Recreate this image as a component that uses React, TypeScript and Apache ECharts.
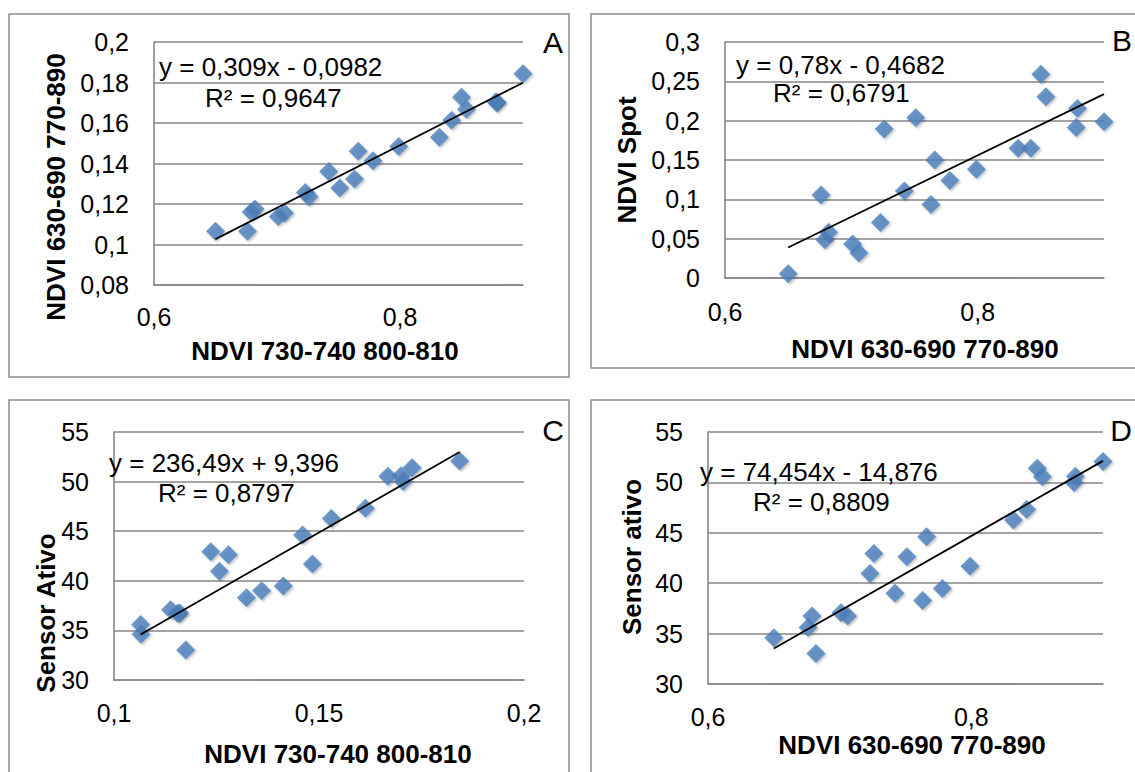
import React, { useEffect, useRef } from 'react';
import * as echarts from 'echarts';

// Shared samples (21 plots)
const ndviU = [0.650, 0.676, 0.679, 0.682, 0.701, 0.706, 0.723, 0.726, 0.742, 0.751, 0.763, 0.766, 0.778, 0.799, 0.832, 0.842, 0.850, 0.854, 0.879, 0.878, 0.900];
const ndviV = [0.1066, 0.1065, 0.1160, 0.1175, 0.1138, 0.1155, 0.1257, 0.1236, 0.1360, 0.1279, 0.1323, 0.1460, 0.1413, 0.1484, 0.1530, 0.1613, 0.1727, 0.1668, 0.1700, 0.1705, 0.1843];
const ndviSpot = [0.0055, 0.1056, 0.0486, 0.0583, 0.0431, 0.0317, 0.0706, 0.1893, 0.1107, 0.2037, 0.0934, 0.1500, 0.1238, 0.1382, 0.1648, 0.1648, 0.2590, 0.2303, 0.2155, 0.1914, 0.1986];
const sensorAtivo = [34.6, 35.6, 36.75, 33.03, 37.07, 36.74, 40.97, 42.94, 39.0, 42.62, 38.28, 44.61, 39.48, 41.69, 46.28, 47.31, 51.4, 50.55, 50.6, 50.0, 52.07];

// Panel definitions: A, B, C, D
const panelLetters = ['A', 'B', 'C', 'D'];
const xTitles = ['NDVI 730-740 800-810', 'NDVI 630-690 770-890', 'NDVI 730-740 800-810', 'NDVI 630-690 770-890'];
const yTitles = ['NDVI 630-690 770-890', 'NDVI Spot', 'Sensor Ativo', 'Sensor ativo'];
const equations = ['y = 0,309x - 0,0982', 'y = 0,78x - 0,4682', 'y = 236,49x + 9,396', 'y = 74,454x - 14,876'];
const r2Labels = ['R² = 0,9647', 'R² = 0,6791', 'R² = 0,8797', 'R² = 0,8809'];
const slopes = [0.309, 0.78, 236.49, 74.454];
const intercepts = [-0.0982, -0.4682, 9.396, -14.876];
const xMins = [0.6, 0.6, 0.1, 0.6];
const xMaxs = [0.9, 0.9, 0.2, 0.9];
const xSteps = [0.2, 0.2, 0.05, 0.2];
const yMins = [0.08, 0, 30, 30];
const yMaxs = [0.2, 0.3, 55, 55];
const ySteps = [0.02, 0.05, 5, 5];
const xData = [ndviU, ndviU, ndviV, ndviU];
const yData = [ndviV, ndviSpot, sensorAtivo, sensorAtivo];

const FONT = '"Liberation Sans", Arial, sans-serif';
const GRAY = '#868686';
const BLUE = '#4A7EBB';

// layout (pixels)
const grids = [
  { left: 154, top: 42, width: 369, height: 243 },
  { left: 725, top: 42, width: 379, height: 236 },
  { left: 114, top: 432, width: 410, height: 248 },
  { left: 708, top: 432, width: 395, height: 252 },
];
const boxes = [
  { x: 9, y: 14, width: 560, height: 363 },
  { x: 591, y: 14, width: 560, height: 354 },
  { x: 9, y: 400, width: 560, height: 400 },
  { x: 591, y: 400, width: 560, height: 400 },
];
const letterPos = [[553, 42], [1122, 40], [553, 430], [1121, 430]];
const xTitlePos = [[325, 351], [925, 349], [338, 754], [912, 745]];
const yTitlePos = [[56, 187], [627, 160], [46, 613], [632, 557]];
const eqPos = [[159, 67], [736, 65], [109, 463], [700, 472]];
const r2Pos = [[205, 98], [773, 93], [158, 493], [753, 502]];
const xLabelMargins = [19, 21, 20, 20];

const fmt = (step: number) => (v: number) => {
  const k = v / step;
  if (Math.abs(k - Math.round(k)) > 1e-6) return '';
  return String(+v.toFixed(3)).replace('.', ',');
};

function txt(text: string, x: number, y: number, size: number, bold: boolean, align: string, rot = 0) {
  return {
    type: 'text',
    x,
    y,
    rotation: rot,
    silent: true,
    z: 100,
    style: {
      text,
      x: 0,
      y: 0,
      fill: '#000',
      font: `${bold ? 'bold ' : ''}${size}px ${FONT}`,
      align,
      verticalAlign: 'middle',
    },
  };
}

export default function App() {
  const ref = useRef<HTMLDivElement>(null);
  useEffect(() => {
    if (!ref.current) return;
    const chart = echarts.init(ref.current, undefined, { renderer: 'svg' });

    const graphic: any[] = [];
    boxes.forEach((b) => {
      graphic.push({
        type: 'rect',
        shape: { x: b.x, y: b.y, width: b.width, height: b.height },
        style: { fill: 'none', stroke: '#8c8c8c', lineWidth: 1.5 },
        silent: true,
        z: 0,
      });
    });
    for (let i = 0; i < 4; i++) {
      graphic.push(txt(panelLetters[i], letterPos[i][0], letterPos[i][1], 30, false, 'center'));
      graphic.push(txt(xTitles[i], xTitlePos[i][0], xTitlePos[i][1], 26, true, 'center'));
      graphic.push(txt(yTitles[i], yTitlePos[i][0], yTitlePos[i][1], 26, true, 'center', Math.PI / 2));
      graphic.push(txt(equations[i], eqPos[i][0], eqPos[i][1], 26, false, 'left'));
      graphic.push(txt(r2Labels[i], r2Pos[i][0], r2Pos[i][1], 26, false, 'left'));
    }

    const series: any[] = [];
    for (let i = 0; i < 4; i++) {
      const xs = xData[i];
      const ys = yData[i];
      series.push({
        type: 'scatter',
        xAxisIndex: i,
        yAxisIndex: i,
        symbol: 'diamond',
        symbolSize: 19,
        itemStyle: {
          color: BLUE,
          shadowColor: 'rgba(0,0,0,0.3)',
          shadowBlur: 2,
          shadowOffsetX: 1.5,
          shadowOffsetY: 1.5,
        },
        data: xs.map((x, k) => [x, ys[k]]),
        z: 2,
      });
      const x0 = Math.min(...xs);
      const x1 = Math.max(...xs);
      series.push({
        type: 'line',
        xAxisIndex: i,
        yAxisIndex: i,
        symbol: 'none',
        lineStyle: { color: '#000', width: 1.8 },
        data: [
          [x0, slopes[i] * x0 + intercepts[i]],
          [x1, slopes[i] * x1 + intercepts[i]],
        ],
        z: 3,
      });
    }

    chart.setOption({
      animation: false,
      backgroundColor: '#fff',
      textStyle: { fontFamily: FONT },
      grid: grids.map((g) => ({ ...g, containLabel: false, outerBoundsMode: 'none' })),
      xAxis: grids.map((_, i) => ({
        type: 'value',
        gridIndex: i,
        min: xMins[i],
        max: xMaxs[i],
        interval: xSteps[i],
        axisLine: { show: true, onZero: false, lineStyle: { color: GRAY, width: 1.6 } },
        axisTick: { show: false },
        splitLine: { show: false },
        axisLabel: {
          color: '#000',
          fontSize: 25,
          fontFamily: FONT,
          margin: xLabelMargins[i],
          formatter: fmt(xSteps[i]),
          hideOverlap: false,
        },
      })),
      yAxis: grids.map((_, i) => ({
        type: 'value',
        gridIndex: i,
        min: yMins[i],
        max: yMaxs[i],
        interval: ySteps[i],
        axisLine: { show: true, onZero: false, lineStyle: { color: GRAY, width: 1.6 } },
        axisTick: { show: false },
        splitLine: { show: true, lineStyle: { color: GRAY, width: 1.6 } },
        axisLabel: {
          color: '#000',
          fontSize: 25,
          fontFamily: FONT,
          margin: 25,
          formatter: fmt(ySteps[i]),
        },
      })),
      graphic,
      series,
    });
    return () => chart.dispose();
  }, []);
  return (
    <div
      ref={ref}
      style={{ position: 'absolute', left: 0, top: 0, width: 1135, height: 772, background: '#fff' }}
    />
  );
}
